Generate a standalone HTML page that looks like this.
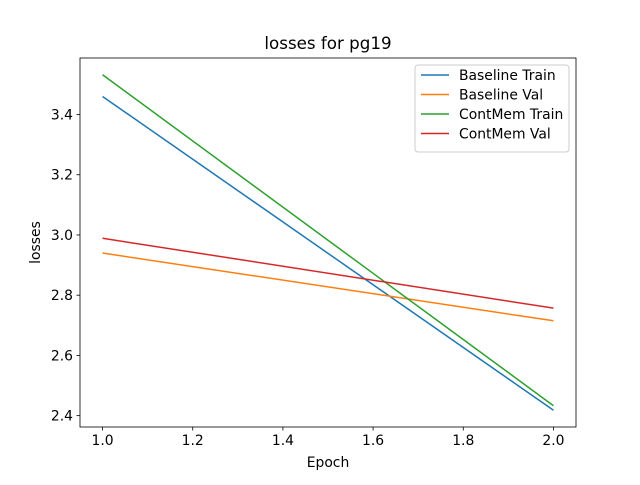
<!DOCTYPE html>
<html><head><meta charset="utf-8"><style>
body{margin:0;background:#fff}
svg{font-family:"DejaVu Sans","Liberation Sans",sans-serif}
</style></head><body>
<svg id="chart" width="640" height="480" xmlns="http://www.w3.org/2000/svg">
<rect width="640" height="480" fill="#fff"/>
<g id="plot"></g>
</svg>
<script>
const epochs=[1,2];
const seriesNames=["Baseline Train","Baseline Val","ContMem Train","ContMem Val"];
const baselineTrain=[3.46,2.418];
const baselineVal=[2.94,2.715];
const contmemTrain=[3.532,2.433];
const contmemVal=[2.989,2.757];
const xTicks=[1.0,1.2,1.4,1.6,1.8,2.0];
const yTicks=[2.4,2.6,2.8,3.0,3.2,3.4];
const colors=["#1f77b4","#ff7f0e","#2ca02c","#d62728"];
const all=[baselineTrain,baselineVal,contmemTrain,contmemVal];
const L=80,R=576,T=58,B=427;
const ymin=Math.min(...all.flat()),ymax=Math.max(...all.flat());
const yr=ymax-ymin,y0=ymin-0.05*yr,y1=ymax+0.05*yr;
const xs=v=>L+(v-0.95)/1.1*(R-L);
const ys=v=>B-(v-y0)/(y1-y0)*(B-T);
const NS="http://www.w3.org/2000/svg";
const g=document.getElementById('plot');
function mk(t,a,txt){const e=document.createElementNS(NS,t);for(const k in a)e.setAttribute(k,a[k]);if(txt!==undefined)e.textContent=txt;g.appendChild(e);return e;}
all.forEach((s,i)=>{
 const p=mk('polyline',{points:s.map((v,j)=>xs(epochs[j])+','+ys(v)).join(' '),fill:'none',stroke:colors[i],'stroke-width':1.5});
 
 
});
const fr=mk('rect',{x:L,y:T,width:R-L,height:B-T,fill:'none',stroke:'#000','stroke-width':0.8});


xTicks.forEach(v=>{
 const x=xs(v);mk('line',{x1:x,x2:x,y1:B,y2:B+3.5,stroke:'#000','stroke-width':0.8});
 const t=mk('text',{x:x,y:B+18,'text-anchor':'middle','font-size':13.9},v.toFixed(1));
 
 
});
yTicks.forEach(v=>{
 const y=ys(v);mk('line',{x1:L-3.5,x2:L,y1:y,y2:y,stroke:'#000','stroke-width':0.8});
 const t=mk('text',{x:L-7,y:y+5,'text-anchor':'end','font-size':13.9},v.toFixed(1));
 
 
});
let t=mk('text',{x:(L+R)/2,y:49,'text-anchor':'middle','font-size':16.7},'losses for pg19');


t=mk('text',{x:(L+R)/2,y:467,'text-anchor':'middle','font-size':13.9},'Epoch');


t=mk('text',{x:40,y:(T+B)/2,'text-anchor':'middle','font-size':13.9,transform:'rotate(-90 40 '+(T+B)/2+')'},'losses');


const lg=mk('rect',{x:415,y:65,width:154,height:87,rx:3,fill:'#fff',stroke:'#ccc','stroke-width':1});


seriesNames.forEach((n,i)=>{
 const y=75+i*19.5;
 mk('line',{x1:421,x2:449,y1:y,y2:y,stroke:colors[i],'stroke-width':1.5});
 const e=mk('text',{x:459,y:y+5,'font-size':13.9},n);
 
 
});
</script>
</body></html>
